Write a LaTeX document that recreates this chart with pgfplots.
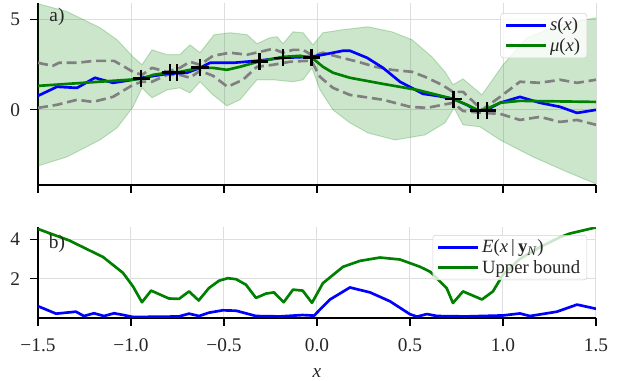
\documentclass[border=0pt]{standalone}
\usepackage{fontspec}
\setmainfont{Liberation Serif}
\usepackage{pgfplots}
\pgfplotsset{compat=1.18}
\usepgfplotslibrary{fillbetween}
\definecolor{mblue}{RGB}{0,0,255}
\definecolor{mgreen}{RGB}{0,128,0}
\definecolor{mgray}{RGB}{128,128,128}
\definecolor{gridc}{RGB}{222,222,222}
\definecolor{legedge}{RGB}{210,210,210}
\definecolor{txt}{RGB}{38,38,38}

\pgfplotsset{
 common/.style={
  scale only axis, width=418.5pt, xmin=-1.5, xmax=1.5,
  axis x line*=bottom, axis y line*=left,
  axis line style={black, line width=0.9pt},
  tick align=outside, major tick length=6pt,
  tick style={black, line width=0.9pt},
  grid=major, major grid style={gridc, line width=0.75pt},
  xtick={-1.5,-1,-0.5,0,0.5,1,1.5},
  tick label style={text=txt, font=\fontsize{14.5}{17}\selectfont},
  xticklabel style={yshift=-6pt},
  yticklabel style={xshift=-4pt},
  legend cell align=left,
  legend style={draw=legedge, rounded corners=2pt, fill=white, fill opacity=0.8, text opacity=1,
    text=txt, font=\fontsize{14}{17}\selectfont, inner xsep=3pt, inner ysep=1.5pt, row sep=0pt},
  legend image code/.code={\draw[#1] (0pt,0pt) -- (30pt,0pt);},
  every axis plot/.append style={line join=round},
 },
}

\begin{document}
\begin{tikzpicture}[font=\fontsize{14.5}{17}\selectfont]

% ---------------- top panel ----------------
\begin{axis}[common, name=top, at={(0,0)}, anchor=south west, height=136.5pt,
  ymin=-4.17, ymax=5.93, ytick={0,5}, yticklabels={0,5}, xticklabels={},
  legend style={at={(0.984,0.945)}, anchor=north east}]

\addplot[name path=U, draw=mgreen, draw opacity=0.22, line width=0.75pt, forget plot] coordinates {
(-1.5,5.89) (-1.346,5.46) (-1.167,4.56) (-1.075,3.89) (-0.989,2.94) (-0.941,2.5)
(-0.887,3.33) (-0.806,3.06) (-0.737,3.06) (-0.683,3.61) (-0.629,3.17) (-0.553,4.17)
(-0.468,4.28) (-0.376,4.17) (-0.323,3.67) (-0.253,4.0) (-0.215,4.06) (-0.183,3.67)
(-0.129,4.33) (-0.075,4.28) (-0.022,3.6) (0.032,4.28) (0.134,4.44) (0.274,4.61)
(0.403,4.33) (0.511,3.89) (0.618,2.94) (0.688,2.11) (0.731,1.39) (0.785,1.72)
(0.887,0.83) (1.0,2.5) (1.129,4.0) (1.306,4.72) (1.5,5.11)};
\addplot[name path=L, draw=mgreen, draw opacity=0.22, line width=0.75pt, forget plot] coordinates {
(-1.5,-3.11) (-1.344,-2.61) (-1.167,-1.67) (-1.075,-1.0) (-0.989,0.17) (-0.941,1.22)
(-0.887,0.67) (-0.806,1.11) (-0.737,1.22) (-0.683,0.94) (-0.629,1.56) (-0.559,0.83)
(-0.484,0.22) (-0.414,0.56) (-0.323,1.67) (-0.237,1.67) (-0.129,1.56) (-0.075,1.67)
(-0.027,2.33) (0.016,1.11) (0.086,0.0) (0.177,-0.72) (0.274,-1.28) (0.419,-1.67)
(0.581,-1.39) (0.688,-0.72) (0.737,0.11) (0.785,-0.83) (0.876,-0.94) (0.984,-1.67)
(1.161,-2.61) (1.344,-3.44) (1.5,-4.11)};
\addplot[mgreen, fill opacity=0.2, draw=none, forget plot] fill between[of=U and L];

\addplot[mgray, line width=2pt, dash pattern=on 7.5pt off 3.6pt, forget plot] coordinates {
(-1.5,2.61) (-1.421,2.44) (-1.387,2.61) (-1.29,2.61) (-1.199,2.72) (-1.091,2.72)
(-0.989,2.11) (-0.941,1.94) (-0.887,2.33) (-0.806,2.11) (-0.737,2.33) (-0.683,2.67)
(-0.629,2.5) (-0.559,3.0) (-0.468,3.17) (-0.376,3.06) (-0.306,3.22) (-0.237,3.39)
(-0.183,3.17) (-0.129,3.33) (-0.075,3.33) (-0.022,3.0) (0.032,3.17) (0.134,2.89)
(0.220,2.67) (0.312,2.39) (0.403,2.22) (0.511,2.11) (0.581,1.83) (0.672,1.39)
(0.731,1.0) (0.785,1.0) (0.887,0.0) (0.984,0.72) (1.091,1.56) (1.199,1.5)
(1.306,1.67) (1.398,1.5) (1.5,1.67)};
\addplot[mgray, line width=2pt, dash pattern=on 7.5pt off 3.6pt, forget plot] coordinates {
(-1.5,0.11) (-1.398,0.28) (-1.29,0.56) (-1.204,0.44) (-1.097,0.72) (-0.989,1.39)
(-0.941,1.56) (-0.887,1.56) (-0.806,1.94) (-0.737,1.94) (-0.683,1.78) (-0.629,2.17)
(-0.559,1.89) (-0.481,1.28) (-0.398,1.67) (-0.323,2.39) (-0.237,2.5) (-0.145,2.67)
(-0.054,2.72) (-0.027,2.67) (0.016,1.83) (0.086,1.22) (0.177,0.83) (0.355,0.56)
(0.5,0.17) (0.591,0.11) (0.731,0.39) (0.785,-0.06) (0.887,-0.17) (0.984,-0.22)
(1.091,-0.56) (1.199,-0.39) (1.306,-0.67) (1.398,-0.56) (1.5,-0.83)};

\addplot[mblue, line width=2pt] coordinates {
(-1.5,0.78) (-1.398,1.28) (-1.29,1.22) (-1.194,1.78) (-1.097,1.5) (-0.989,1.67)
(-0.941,1.78) (-0.806,2.0) (-0.699,2.06) (-0.629,2.33) (-0.575,2.61) (-0.452,2.61)
(-0.323,2.72) (-0.183,2.89) (-0.038,2.94) (0.032,3.06) (0.140,3.28) (0.177,3.28)
(0.269,2.89) (0.355,2.33) (0.446,1.56) (0.570,0.89) (0.645,0.78) (0.731,0.61)
(0.806,0.28) (0.860,-0.06) (0.914,0.0) (0.984,0.39) (1.091,0.72) (1.199,0.39)
(1.306,0.17) (1.398,-0.17) (1.5,0.0)};
\addlegendentry{\textit{s}(\textit{x})}
\addplot[mgreen, line width=2pt] coordinates {
(-1.5,1.33) (-0.941,1.72) (-0.882,1.94) (-0.806,2.06) (-0.737,2.11) (-0.629,2.33)
(-0.559,2.33) (-0.484,2.22) (-0.414,2.39) (-0.317,2.67) (-0.183,2.94) (-0.091,3.0)
(-0.027,2.89) (0.032,2.39) (0.086,2.06) (0.177,1.78) (0.355,1.44) (0.538,1.11)
(0.731,0.61) (0.806,0.28) (0.876,-0.06) (0.914,0.06) (0.984,0.39) (1.091,0.5)
(1.5,0.44)};
\addlegendentry{\textit{μ}(\textit{x})}

\addplot[only marks, mark=+, mark size=6.4pt, line width=2pt, black, forget plot] coordinates {
(-0.946,1.75) (-0.79,2.06) (-0.753,2.06) (-0.629,2.36) (-0.31,2.68) (-0.183,2.88)
(-0.029,2.92) (0.734,0.6) (0.866,-0.05) (0.914,-0.05)};

\node[anchor=center, text=txt] at (rel axis cs:0.034,0.923) {a)};
\end{axis}

% ---------------- bottom panel ----------------
\begin{axis}[common, name=bot, at={(0,-99.75pt)}, anchor=south west, height=68.25pt,
  ymin=0, ymax=4.62, ytick={2,4}, yticklabels={2,4},
  xticklabels={−1.5,−1.0,−0.5,0.0,0.5,1.0,1.5},
  xlabel={\textit{x}},
  xlabel style={at={(rel axis cs:0.5,0)}, anchor=base, yshift=-44.5pt, text=txt},
  legend style={at={(0.984,0.912)}, anchor=north east}]

\addplot[mblue, line width=2pt] coordinates {
(-1.5,0.6) (-1.403,0.22) (-1.296,0.32) (-1.253,0.1) (-1.199,0.24) (-1.145,0.1)
(-1.091,0.24) (-1.04,0.15) (-0.989,0.05) (-0.9,0.06) (-0.8,0.07) (-0.742,0.08)
(-0.688,0.22) (-0.634,0.1) (-0.581,0.27) (-0.507,0.39) (-0.435,0.37) (-0.328,0.1)
(-0.2,0.08) (-0.077,0.15) (-0.016,0.12) (0.07,0.94) (0.177,1.55) (0.285,1.3)
(0.392,0.85) (0.5,0.19) (0.538,0.07) (0.591,0.2) (0.645,0.1) (0.8,0.08)
(1.0,0.13) (1.091,0.23) (1.145,0.1) (1.290,0.32) (1.398,0.68) (1.5,0.47)};
\addlegendentry{\textit{E}(\textit{x}\,|\,\textbf{y}\textsubscript{\textit{N}})}
\addplot[mgreen, line width=2pt] coordinates {
(-1.5,4.52) (-1.333,3.94) (-1.151,3.1) (-1.043,2.29) (-0.989,1.6) (-0.941,0.8)
(-0.892,1.39) (-0.796,0.99) (-0.742,0.97) (-0.688,1.35) (-0.636,0.89) (-0.581,1.52)
(-0.527,1.89) (-0.480,2.02) (-0.435,1.97) (-0.382,1.69) (-0.328,1.02) (-0.274,1.24)
(-0.231,1.3) (-0.179,0.8) (-0.129,1.44) (-0.077,1.39) (-0.027,0.77) (0.032,1.77)
(0.140,2.6) (0.231,2.9) (0.339,3.07) (0.446,2.97) (0.554,2.6) (0.608,2.35)
(0.697,1.52) (0.731,0.76) (0.785,1.35) (0.887,0.94) (0.946,1.35) (1.0,2.2)
(1.091,3.0) (1.199,3.6) (1.306,4.1) (1.360,4.29) (1.5,4.6)};
\addlegendentry{Upper bound}

\node[anchor=center, text=txt] at (rel axis cs:0.034,0.81) {b)};
\end{axis}
\pgfresetboundingbox
\useasboundingbox (-28.5pt,-147pt) rectangle (435pt,138.75pt);
\end{tikzpicture}
\end{document}
